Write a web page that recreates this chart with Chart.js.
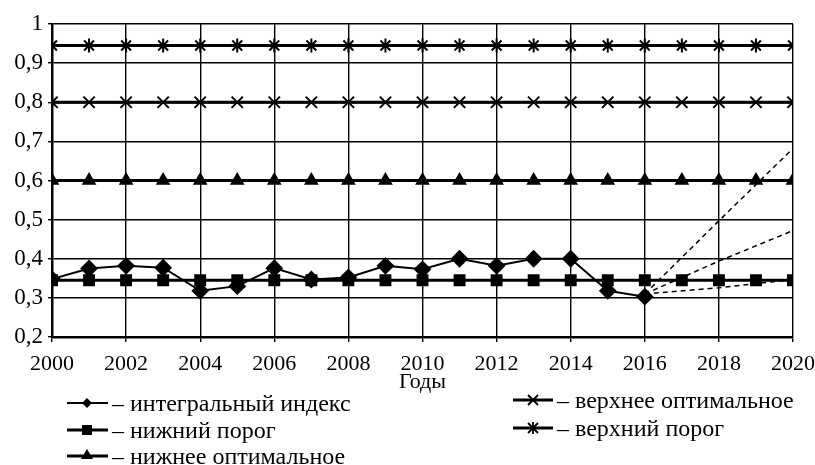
<!DOCTYPE html>
<html>
<head>
<meta charset="utf-8">
<script src="https://cdn.jsdelivr.net/npm/chart.js@4"></script>
<style>
  html, body { margin: 0; padding: 0; background: #fff; }
  #wrap { position: relative; width: 815px; height: 465px; overflow: hidden; }
  #chart { position: absolute; left: 0; top: 0; }
  .leg { position: absolute; display: flex; align-items: center; height: 26px;
         font-family: 'Liberation Serif', 'DejaVu Serif', serif; font-size: 24px; color: #000; white-space: nowrap; }
  .leg svg { margin-right: 4px; }
</style>
</head>
<body>
<div id="wrap">
  <canvas id="chart" width="815" height="465"></canvas>
  <div class="leg" style="left:67px; top:390px"><svg width="41" height="20" data-m="diamond"></svg>– интегральный индекс</div>
  <div class="leg" style="left:67px; top:417px"><svg width="41" height="20" data-m="square"></svg>– нижний порог</div>
  <div class="leg" style="left:67px; top:443px"><svg width="41" height="20" data-m="triangle"></svg>– нижнее оптимальное</div>
  <div class="leg" style="left:513px; top:387px"><svg width="40" height="20" data-m="cross"></svg>– верхнее оптимальное</div>
  <div class="leg" style="left:513px; top:415px"><svg width="40" height="20" data-m="star"></svg>– верхний порог</div>
</div>
<script>
// ── data ──────────────────────────────────────
const years = [2000, 2001, 2002, 2003, 2004, 2005, 2006, 2007, 2008, 2009, 2010,
               2011, 2012, 2013, 2014, 2015, 2016, 2017, 2018, 2019, 2020];

// integral index, 2000–2016
const integralIndex = [0.348, 0.375, 0.382, 0.377, 0.318, 0.330, 0.376, 0.347, 0.352,
                       0.382, 0.373, 0.400, 0.382, 0.400, 0.400, 0.318, 0.303];

const lowerThreshold = [0.345, 0.345, 0.345, 0.345, 0.345, 0.345, 0.345, 0.345, 0.345, 0.345, 0.345,
                        0.345, 0.345, 0.345, 0.345, 0.345, 0.345, 0.345, 0.345, 0.345, 0.345];
const lowerOptimal   = [0.6, 0.6, 0.6, 0.6, 0.6, 0.6, 0.6, 0.6, 0.6, 0.6, 0.6,
                        0.6, 0.6, 0.6, 0.6, 0.6, 0.6, 0.6, 0.6, 0.6, 0.6];
const upperOptimal   = [0.8, 0.8, 0.8, 0.8, 0.8, 0.8, 0.8, 0.8, 0.8, 0.8, 0.8,
                        0.8, 0.8, 0.8, 0.8, 0.8, 0.8, 0.8, 0.8, 0.8, 0.8];
const upperThreshold = [0.945, 0.945, 0.945, 0.945, 0.945, 0.945, 0.945, 0.945, 0.945, 0.945, 0.945,
                        0.945, 0.945, 0.945, 0.945, 0.945, 0.945, 0.945, 0.945, 0.945, 0.945];

// forecast scenarios (dashed)
const forecastYears = [2016, 2018, 2020];
const forecastHigh  = [0.31, 0.497, 0.682];
const forecastMid   = [0.31, 0.394, 0.472];
const forecastLow   = [0.31, 0.326, 0.347];

const yTicks = [0.2, 0.3, 0.4, 0.5, 0.6, 0.7, 0.8, 0.9, 1];

// ── helpers ───────────────────────────────────
const pts = (xs, ys) => ys.map((v, i) => ({ x: xs[i], y: v }));
const FONT = "'Liberation Serif', 'DejaVu Serif', serif";

const series = (data, style, radius, width) => ({
  data,
  borderColor: '#000',
  backgroundColor: '#000',
  borderWidth: width,
  pointStyle: style,
  pointRadius: radius,
  pointBorderWidth: 2,
  pointBorderColor: '#000',
  pointBackgroundColor: '#000',
  tension: 0,
});

const dashed = data => ({
  data,
  borderColor: '#000',
  borderWidth: 1.5,
  borderDash: [5, 4],
  pointRadius: 0,
  tension: 0,
});

new Chart(document.getElementById('chart'), {
  type: 'line',
  data: {
    datasets: [
      dashed(pts(forecastYears, forecastHigh)),
      dashed(pts(forecastYears, forecastMid)),
      dashed(pts(forecastYears, forecastLow)),
      series(pts(years, upperThreshold), 'star', 7, 3),
      series(pts(years, upperOptimal), 'crossRot', 8, 3),
      series(pts(years, lowerOptimal), 'triangle', 6.5, 3),
      series(pts(years, lowerThreshold), 'rect', 7, 3),
      series(pts(years, integralIndex), 'rectRot', 7.5, 2),
    ],
  },
  options: {
    responsive: false,
    animation: false,
    layout: { padding: { top: 24, right: 22, bottom: 70, left: 0 } },
    plugins: { legend: { display: false }, tooltip: { enabled: false } },
    scales: {
      x: {
        type: 'linear',
        min: 2000, max: 2020,
        afterFit: s => { s.height = 58; s.paddingLeft = 0; s.paddingRight = 0; },
        ticks: {
          stepSize: 2,
          color: '#000',
          padding: 9,
          maxRotation: 0,
          font: { family: FONT, size: 22 },
          callback: v => String(v),
        },
        grid: { color: '#000', lineWidth: 1.4, tickLength: 5 },
        border: { color: '#000', width: 2.5 },
        title: { display: true, text: 'Годы', color: '#000', padding: 0, font: { family: FONT, size: 22 } },
      },
      y: {
        min: 0.2, max: 1,
        afterFit: s => { s.width = 52; },
        afterBuildTicks: s => { s.ticks = yTicks.map(v => ({ value: v })); },
        ticks: {
          color: '#000',
          padding: 5,
          font: { family: FONT, size: 23 },
          callback: v => (v === 1 ? '1' : v.toFixed(1).replace('.', ',')),
        },
        grid: { color: '#000', lineWidth: 1.4, tickLength: 4 },
        border: { color: '#000', width: 2.5 },
      },
    },
  },
});

// ── legend symbols ────────────────────────────
const shapes = {
  diamond:  '<path d="M20 5 L25 10 L20 15 L15 10 Z" fill="#000"/>',
  square:   '<rect x="15" y="5" width="10" height="10" fill="#000"/>',
  triangle: '<path d="M20 3 L26 13 L14 13 Z" fill="#000"/>',
  cross:    '<path d="M15 5 L25 15 M25 5 L15 15" stroke="#000" stroke-width="1.8"/>',
  star:     '<path d="M15 5 L25 15 M25 5 L15 15 M20 4 L20 16" stroke="#000" stroke-width="1.8"/>',
};
document.querySelectorAll('.leg svg').forEach(svg => {
  const m = svg.dataset.m;
  const w = m === 'diamond' ? 2 : 3;
  svg.innerHTML = `<line x1="0" y1="10" x2="42" y2="10" stroke="#000" stroke-width="${w}"/>` + shapes[m];
});
</script>
</body>
</html>
